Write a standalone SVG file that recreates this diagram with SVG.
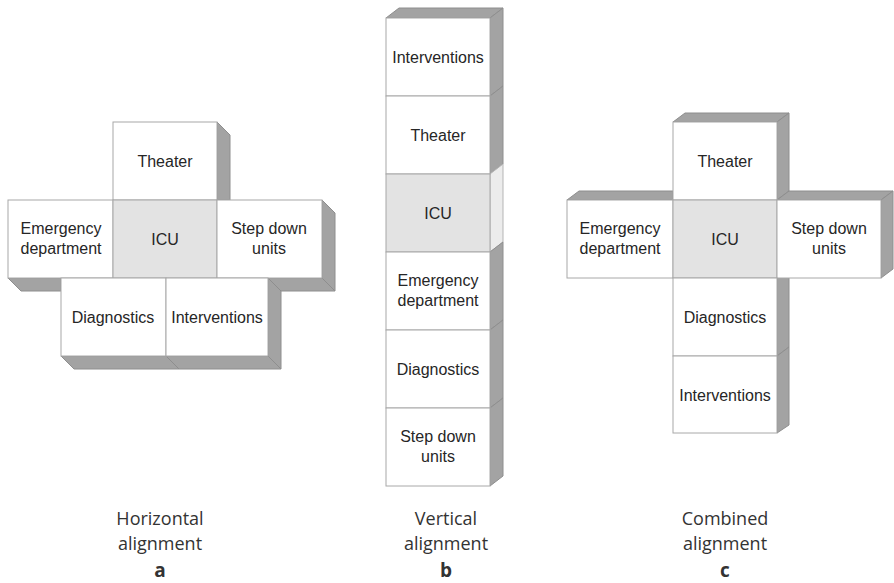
<svg xmlns="http://www.w3.org/2000/svg" width="894" height="583" viewBox="0 0 894 583">
<style>
.face{fill:#ffffff;stroke:#a8a8a8;stroke-width:1}
.icu{fill:#e3e3e3;stroke:#a8a8a8;stroke-width:1}
.side{fill:#a3a3a3;stroke:#8e8e8e;stroke-width:1;stroke-linejoin:round}
.sidel{fill:#ececec;stroke:#b5b5b5;stroke-width:1}
.lbl{font-family:"Liberation Sans",Arial,sans-serif;font-size:16px;fill:#262626;text-anchor:middle}
.cap{font-family:"Open Sans","Noto Sans",sans-serif;font-size:18px;fill:#333333;text-anchor:middle}
.let{font-family:"Open Sans","Noto Sans",sans-serif;font-size:19px;font-weight:bold;fill:#333333;text-anchor:middle}
</style>
<rect width="894" height="583" fill="#ffffff"/>

<!-- Panel a: horizontal alignment -->
<g id="a-sides">
<polygon class="side" points="217,122 230,135 230,200 217,200"/>
<polygon class="side" points="322,200 335,213 335,291 322,278"/>
<polygon class="side" points="268,278 322,278 335,291 281,291"/>
<polygon class="side" points="8,278 61,278 61,291 21,291"/>
<polygon class="side" points="61,356 166,356 179,369 74,369"/>
<polygon class="side" points="166,356 268,356 281,369 179,369"/>
<polygon class="side" points="268,278 281,291 281,369 268,356"/>
</g>
<g id="a-theater"><rect class="face" x="113" y="122" width="104" height="78"/><text class="lbl" x="165" y="167">Theater</text></g>
<g id="a-emergency"><rect class="face" x="8" y="200" width="105" height="78"/><text class="lbl" x="61" y="234">Emergency</text><text class="lbl" x="61" y="254">department</text></g>
<g id="a-icu"><rect class="icu" x="113" y="200" width="104" height="78"/><text class="lbl" x="165" y="245">ICU</text></g>
<g id="a-stepdown"><rect class="face" x="217" y="200" width="105" height="78"/><text class="lbl" x="269" y="234">Step down</text><text class="lbl" x="269" y="254">units</text></g>
<g id="a-diagnostics"><rect class="face" x="61" y="278" width="105" height="78"/><text class="lbl" x="113" y="323">Diagnostics</text></g>
<g id="a-interventions"><rect class="face" x="166" y="278" width="102" height="78"/><text class="lbl" x="217" y="323">Interventions</text></g>

<!-- Panel b: vertical alignment -->
<g id="b-sides">
<polygon class="side" points="386,18 399,8 503,8 490,18"/>
<polygon class="side" points="490,18 503,8 503,86 490,96"/>
<polygon class="side" points="490,96 503,86 503,164 490,174"/>
<polygon class="sidel" points="490,174 503,164 503,242 490,252"/>
<polygon class="side" points="490,252 503,242 503,320 490,330"/>
<polygon class="side" points="490,330 503,320 503,398 490,408"/>
<polygon class="side" points="490,408 503,398 503,476 490,486"/>
</g>
<g id="b-interventions"><rect class="face" x="386" y="18" width="104" height="78"/><text class="lbl" x="438" y="63">Interventions</text></g>
<g id="b-theater"><rect class="face" x="386" y="96" width="104" height="78"/><text class="lbl" x="438" y="141">Theater</text></g>
<g id="b-icu"><rect class="icu" x="386" y="174" width="104" height="78"/><text class="lbl" x="438" y="219">ICU</text></g>
<g id="b-emergency"><rect class="face" x="386" y="252" width="104" height="78"/><text class="lbl" x="438" y="286">Emergency</text><text class="lbl" x="438" y="306">department</text></g>
<g id="b-diagnostics"><rect class="face" x="386" y="330" width="104" height="78"/><text class="lbl" x="438" y="375">Diagnostics</text></g>
<g id="b-stepdown"><rect class="face" x="386" y="408" width="104" height="78"/><text class="lbl" x="438" y="442">Step down</text><text class="lbl" x="438" y="462">units</text></g>

<!-- Panel c: combined alignment -->
<g id="c-sides">
<polygon class="side" points="673,122 685,113 789,113 777,122"/>
<polygon class="side" points="777,122 789,113 789,191 777,200"/>
<polygon class="side" points="567,200 579,191 673,191 673,200"/>
<polygon class="side" points="777,200 789,191 893,191 881,200"/>
<polygon class="side" points="881,200 893,191 893,269 881,278"/>
<polygon class="side" points="777,278 789,269 789,347 777,356"/>
<polygon class="side" points="777,356 789,347 789,425 777,433"/>
</g>
<g id="c-theater"><rect class="face" x="673" y="122" width="104" height="78"/><text class="lbl" x="725" y="167">Theater</text></g>
<g id="c-emergency"><rect class="face" x="567" y="200" width="106" height="78"/><text class="lbl" x="620" y="234">Emergency</text><text class="lbl" x="620" y="254">department</text></g>
<g id="c-icu"><rect class="icu" x="673" y="200" width="104" height="78"/><text class="lbl" x="725" y="245">ICU</text></g>
<g id="c-stepdown"><rect class="face" x="777" y="200" width="104" height="78"/><text class="lbl" x="829" y="234">Step down</text><text class="lbl" x="829" y="254">units</text></g>
<g id="c-diagnostics"><rect class="face" x="673" y="278" width="104" height="78"/><text class="lbl" x="725" y="323">Diagnostics</text></g>
<g id="c-interventions"><rect class="face" x="673" y="356" width="104" height="77"/><text class="lbl" x="725" y="401">Interventions</text></g>

<!-- Captions -->
<g id="captions">
<text class="cap" x="160" y="525">Horizontal</text>
<text class="cap" x="160" y="550">alignment</text>
<text class="let" x="160" y="577">a</text>
<text class="cap" x="446" y="525">Vertical</text>
<text class="cap" x="446" y="550">alignment</text>
<text class="let" x="446" y="577">b</text>
<text class="cap" x="725" y="525">Combined</text>
<text class="cap" x="725" y="550">alignment</text>
<text class="let" x="725" y="577">c</text>
</g>
</svg>
